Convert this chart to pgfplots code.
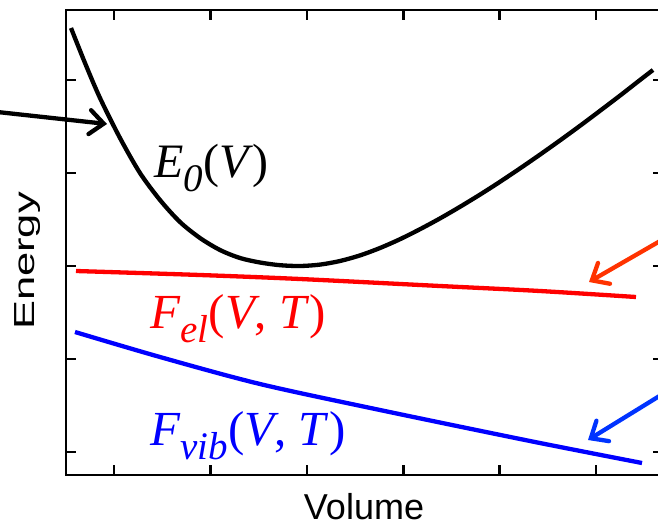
\documentclass[border=0pt]{standalone}
\usepackage{pgfplots}
\pgfplotsset{compat=1.18}
\usepackage{fontspec}
\setmainfont{Liberation Serif}
\newfontfamily\arial{Liberation Sans}
\usetikzlibrary{arrows.meta}
\definecolor{arrred}{RGB}{255,51,0}
\definecolor{arrblue}{RGB}{0,51,255}

% subscript, set lower and a bit smaller
\newcommand{\sub}[1]{\raisebox{-14pt}{\fontsize{39}{39}\selectfont\itshape #1}}

\begin{document}
\begin{tikzpicture}
\begin{axis}[
    at={(66pt,52pt)}, anchor=south west,
    scale only axis, width=597pt, height=465pt,
    xmin=66, xmax=663, ymin=10, ymax=475, y dir=reverse,
    xtick={114,210.4,306.8,403.2,499.6,596},
    ytick={80,173,266,359,452},
    xticklabels={}, yticklabels={},
    major tick length=10pt,
    axis line style={line width=2.6pt},
    every tick/.style={black, line width=2.6pt},
    clip=false,
    xlabel={Volume},
    xlabel style={at={(axis cs:364,519)}, anchor=base, inner sep=0pt,
        font=\arial\fontsize{36}{36}\selectfont},
    ylabel={\scalebox{1.5}[1]{Energy}},
    ylabel style={at={(axis cs:35,261)}, anchor=base, inner sep=0pt,
        font=\arial\fontsize{29}{29}\selectfont},
]

% E_0(V)
\addplot[black, line width=4.3pt, smooth] coordinates {
    (71,28) (85,63) (100,98) (120,138) (140,173) (160,200) (180,222)
    (200,238) (220,250) (240,258) (260,262.5) (280,265.2) (300,266)
    (320,264.6) (340,261) (360,255.4) (380,248) (400,239.2) (420,229.2)
    (440,218.4) (460,206.8) (480,194.6) (500,181.8) (520,168.4)
    (540,154.6) (560,140.4) (580,125.8) (600,110.8) (620,95.6)
    (640,80) (653,70)
};

% F_el(V,T)
\addplot[red, line width=4.3pt, smooth] coordinates {
    (76,271) (200,275) (300,279) (440,286) (540,291) (636,297)
};

% F_vib(V,T)
\addplot[blue, line width=4.3pt, smooth] coordinates {
    (75,332) (160,357) (260,384) (380,410) (530,441) (642,463)
};

\node[anchor=base west, inner sep=0pt] at (axis cs:154,177)
    {\fontsize{48}{48}\selectfont\textit{E}\sub{0}(\textit{V})};
\node[anchor=base west, inner sep=0pt, text=red] at (axis cs:150,328)
    {\fontsize{49}{49}\selectfont\textit{F}\sub{el}(\textit{V}, \textit{T})};
\node[anchor=base west, inner sep=0pt, text=blue] at (axis cs:150,445)
    {\fontsize{49}{49}\selectfont\textit{F}\sub{vib}(\textit{V}, \textit{T})};

% arrows coming in from outside
\draw[black, line width=4.3pt, line cap=round,
    -{Straight Barb[length=14pt, width=24pt, line cap=round]}]
    (axis cs:-30,109) -- (axis cs:107,124);
\draw[arrred, line width=4.3pt, line cap=round,
    -{Straight Barb[length=14pt, width=24pt, line cap=round]}]
    (axis cs:700,218) -- (axis cs:589,282);
\draw[arrblue, line width=4.3pt, line cap=round,
    -{Straight Barb[length=14pt, width=24pt, line cap=round]}]
    (axis cs:700,371) -- (axis cs:588,440);
\end{axis}
\pgfresetboundingbox
\useasboundingbox (0,0) rectangle (658pt,527pt);
\end{tikzpicture}
\end{document}
